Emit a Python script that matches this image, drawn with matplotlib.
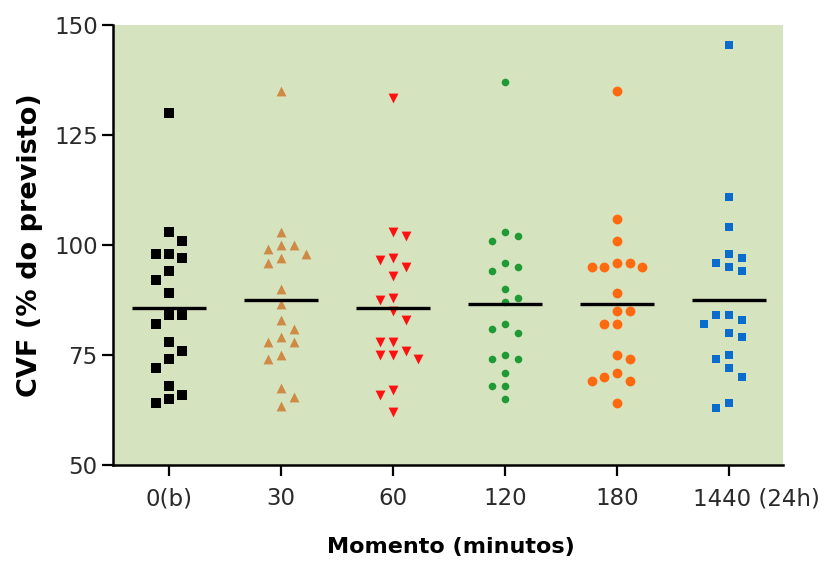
import numpy as np
import matplotlib.pyplot as plt
import matplotlib.transforms as mtransforms

plt.rcParams['font.family'] = ['DejaVu Sans']

# CVF (% do previsto) per moment
momentos = ['0(b)', '30', '60', '120', '180', '1440 (24h)']
cvf_0 = [130, 103, 101, 98, 98, 97, 94, 92, 89, 84, 84, 82, 78, 76, 74, 72, 68, 66, 65, 64]
cvf_30 = [135, 103, 100, 100, 99, 98, 97, 96, 90, 86.5, 83, 81, 79, 78, 78, 75, 74, 67.5, 65.5, 63.5]
cvf_60 = [133.5, 103, 102, 97, 96.5, 95, 93, 88, 87.5, 85, 83, 78, 78, 76, 75, 75, 74, 67, 66, 62]
cvf_120 = [137, 103, 102, 101, 96, 95, 94, 90, 88, 87, 82, 81, 80, 75, 74, 74, 71, 68, 68, 65]
cvf_180 = [135, 106, 101, 96, 96, 95, 95, 95, 89, 85, 85, 82, 82, 75, 74, 71, 70, 69, 69, 64]
cvf_1440 = [145.5, 111, 104, 98, 97, 96, 95, 94, 84, 84, 83, 82, 80, 79, 75, 74, 72, 70, 64, 63]

groups = [cvf_0, cvf_30, cvf_60, cvf_120, cvf_180, cvf_1440]
styles = [
    dict(marker='s', color='#000000', s=42),
    dict(marker='^', color='#cf8a45', s=50),
    dict(marker='v', color='#ff1010', s=50),
    dict(marker='o', color='#1f9a35', s=30),
    dict(marker='o', color='#ff6a10', s=50),
    dict(marker='s', color='#0a6ccc', s=32),
]


def swarm_offsets(values, thr=2.8, step=0.113):
    # simple column-scatter layout: slots 0, -1, +1, -2, +2 ... alternating sides
    placed = []
    offs = []
    last_side = -1
    for v in values:
        k = 0
        while True:
            if k == 0:
                cands = [0]
            else:
                cands = [-k * last_side, k * last_side]
            free = [c for c in cands
                    if all(not (pc == c and abs(pv - v) < thr) for pv, pc in placed)]
            if free:
                c = free[0]
                break
            k += 1
        if c != 0:
            last_side = 1 if c > 0 else -1
        placed.append((v, c))
        offs.append(c * step)
    return np.array(offs)


fig = plt.figure(figsize=(8.25, 5.62), dpi=100)
ax = fig.add_axes([0.137, 0.1726, 0.812, 0.783])
ax.set_facecolor('#d6e3bf')

for i, vals in enumerate(groups):
    x = i + swarm_offsets(vals)
    ax.scatter(x, vals, linewidths=0, zorder=3, **styles[i])
    m = np.mean(vals)
    ax.plot([i - 0.33, i + 0.33], [m, m], color='black', lw=2.4, zorder=4,
            solid_capstyle='butt')

ax.set_xlim(-0.5, 5.48)
ax.set_ylim(50, 150)
ax.set_yticks([50, 75, 100, 125, 150])
ax.set_xticks(range(len(momentos)))
ax.set_xticklabels(momentos)

for side in ['top', 'right']:
    ax.spines[side].set_visible(False)
for side in ['left', 'bottom']:
    ax.spines[side].set_linewidth(1.8)
ax.tick_params(axis='both', length=8, width=1.6, labelsize=16.5,
               labelcolor='#2a2a2a', pad=3)
ax.tick_params(axis='x', pad=8)

# the last label sits a bit to the right of its tick in the original
last = ax.get_xticklabels()[-1]
last.set_transform(last.get_transform() +
                   mtransforms.ScaledTranslation(0.27, 0, fig.dpi_scale_trans))

ax.set_ylabel('CVF (% do previsto)', fontsize=19.5, fontweight='bold')
ax.set_xlabel('Momento (minutos)', fontsize=16, fontweight='bold')
ax.yaxis.set_label_coords(-0.104, 0.5)
ax.xaxis.set_label_coords(0.504, -0.163)

fig.savefig('out.png', dpi=100)
